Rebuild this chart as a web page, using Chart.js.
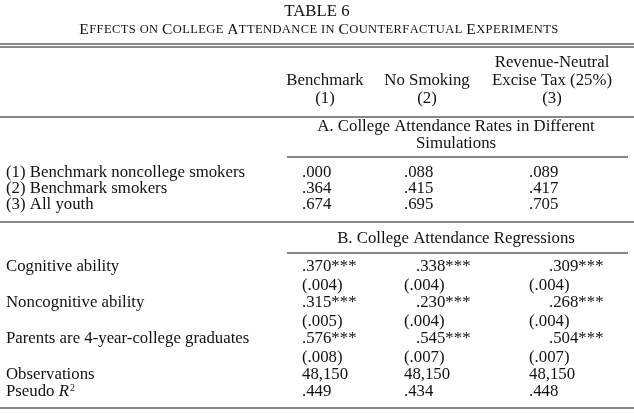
<!DOCTYPE html>
<html><head><meta charset="utf-8">
<script src="https://cdn.jsdelivr.net/npm/chart.js@4"></script>
<style>html,body{margin:0;padding:0;background:#fff}</style>
</head><body>
<canvas id="c" width="634" height="414"></canvas>
<script>
const columns = [["Benchmark","(1)"],["No Smoking","(2)"],["Revenue-Neutral","Excise Tax (25%)","(3)"]];
const sectionA = ["A. College Attendance Rates in Different","Simulations"];
const rowsA = ["(1) Benchmark noncollege smokers","(2) Benchmark smokers","(3) All youth"];
const valuesA = [[".000",".088",".089"],[".364",".415",".417"],[".674",".695",".705"]];
const sectionB = "B. College Attendance Regressions";
const rowsB = ["Cognitive ability","Noncognitive ability","Parents are 4-year-college graduates"];
const coefB = [[".370***",".338***",".309***"],[".315***",".230***",".268***"],[".576***",".545***",".504***"]];
const seB = [["(.004)","(.004)","(.004)"],["(.005)","(.004)","(.004)"],["(.008)","(.007)","(.007)"]];
const observations = ["48,150","48,150","48,150"];
const pseudoR2 = [".449",".434",".448"];

const F = "16.8px 'Liberation Serif', serif";
const colCenter=[325,427,552], colLeft=[302,404,529], coefLeft=[302,416,549];

const tablePlugin = {id:'table', afterDraw(chart){
  const ctx=chart.ctx, xs=chart.scales.x, ys=chart.scales.y;
  const X=v=>xs.getPixelForValue(v), Y=v=>ys.getPixelForValue(v);
  ctx.save(); ctx.fillStyle='#111'; ctx.strokeStyle='#111'; ctx.textBaseline='middle';
  const t=(s,x,y,al='left',f=F)=>{ctx.font=f;ctx.textAlign=al;ctx.fillText(s,X(x),Y(y));};
  const line=(x1,x2,y,w=1)=>{ctx.lineWidth=w;ctx.beginPath();ctx.moveTo(X(x1),Y(y));ctx.lineTo(X(x2),Y(y));ctx.stroke();};
  t("TABLE 6",317,12,'center');
  const words="Effects on College Attendance in Counterfactual Experiments";
  const big="15.5px 'Liberation Serif', serif", sm="12.5px 'Liberation Serif', serif";
  let parts=[];for(const ch of words){const up=ch===ch.toUpperCase()&&ch!==' ';parts.push([up?ch:ch.toUpperCase(),up?big:sm]);}
  let w=0;parts.forEach(p=>{ctx.font=p[1];w+=ctx.measureText(p[0]).width+0.4;});
  let x=X(319)-w/2;ctx.textAlign='left';
  parts.forEach(p=>{ctx.font=p[1];ctx.fillText(p[0],x,Y(30));x+=ctx.measureText(p[0]).width+0.4;});
  line(0,634,44,1);line(0,634,47,1);
  columns.forEach((c,i)=>{const base=99-18*(c.length-1);c.forEach((s,j)=>t(s,colCenter[i],base+18*j,'center'));});
  line(0,634,117);
  t(sectionA[0],456,127,'center');t(sectionA[1],456,144,'center');
  line(287,628,157);
  rowsA.forEach((r,i)=>{t(r,6,173+16*i);valuesA[i].forEach((v,j)=>t(v,colLeft[j],173+16*i));});
  line(0,634,222);
  t(sectionB,456,239,'center');
  line(287,628,253);
  rowsB.forEach((r,i)=>{const y=267+36*i;t(r,6,y);
    coefB[i].forEach((v,j)=>t(v,coefLeft[j],y));seB[i].forEach((v,j)=>t(v,colLeft[j],y+19));});
  t("Observations",6,375);observations.forEach((v,j)=>t(v,colLeft[j],375));
  t("Pseudo ",6,392);ctx.font=F;const pw=ctx.measureText("Pseudo ").width;
  ctx.font="italic 16.8px 'Liberation Serif', serif";ctx.fillText("R",X(6)+pw,Y(392));
  const rw=ctx.measureText("R").width;ctx.font="10px 'Liberation Serif', serif";ctx.fillText("2",X(6)+pw+rw+1,Y(388));
  pseudoR2.forEach((v,j)=>t(v,colLeft[j],392));
  line(0,634,408,1.2);
  ctx.restore();
}};
new Chart(document.getElementById('c'),{type:'scatter',data:{datasets:[{data:[]}]},
 options:{responsive:false,animation:false,events:[],layout:{padding:0},
  plugins:{legend:{display:false},tooltip:{enabled:false}},
  scales:{x:{type:'linear',min:0,max:634,display:false},y:{type:'linear',min:0,max:414,reverse:true,display:false}}},
 plugins:[tablePlugin]});
</script>
</body></html>
